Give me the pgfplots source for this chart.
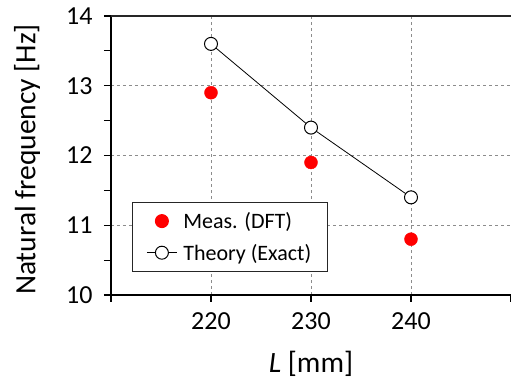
\documentclass[border=0pt]{standalone}
\usepackage{pgfplots}
\pgfplotsset{compat=1.18}
\usepackage{fontspec}
\setmainfont{Carlito}
\begin{document}
\begin{tikzpicture}
\begin{axis}[
  scale only axis, width=400pt, height=279pt,
  xmin=210, xmax=250, ymin=10, ymax=14,
  axis x line*=bottom, axis y line*=left,
  xtick={210,220,230,240,250}, xticklabels={,220,230,240,},
  ytick={10,11,12,13,14}, minor ytick={10.5,11.5,12.5,13.5},
  tick align=outside, major tick length=7pt, minor tick length=7pt,
  tick style={black, line width=1.2pt},
  axis line style={black, line width=1.5pt},
  grid=major, grid style={dashed, black!45, line width=0.7pt},
  /pgf/number format/assume math mode=true,
  ticklabel style={font=\fontsize{26}{30}\selectfont},
  xticklabel style={yshift=-7pt},
  yticklabel style={xshift=-8pt},
  label style={font=\fontsize{29.5}{34}\selectfont},
  xlabel={\textit{L} [mm]},
  xlabel style={at={(rel axis cs:0.5,0)}, anchor=center, yshift=-69pt},
  ylabel={Natural frequency [Hz]},
  ylabel style={at={(rel axis cs:0,0.5)}, anchor=center, yshift=84pt, xshift=-4pt},
  clip=false,
  legend style={at={(0.0525,0.0824)}, anchor=south west,
    font=\fontsize{22}{26}\selectfont, draw=black!85, line width=1pt,
    inner xsep=14pt, inner ysep=8pt, row sep=10pt,
    cells={anchor=west},
    /tikz/every odd column/.append style={column sep=4pt}},
  legend image code/.code={\draw[mark repeat=2,mark phase=2,#1] plot coordinates {(0pt,0pt) (15pt,0pt) (30pt,0pt)};},
]
\coordinate (bl) at (rel axis cs:0,0);
\coordinate (tr) at (rel axis cs:1,1);
\draw[black!85, line width=1.3pt] (rel axis cs:0,1) -- (rel axis cs:1,1);
\addplot[only marks, mark=*, mark size=6.5pt, mark options={draw=red, fill=red}, red]
  coordinates {(220,12.9) (230,11.9) (240,10.8)};
\addlegendentry{Meas. (DFT)}
\addplot[black, line width=0.8pt, mark=*, mark size=6.5pt, mark options={fill=white, draw=black, line width=1pt}]
  coordinates {(220,13.6) (230,12.4) (240,11.4)};
\addlegendentry{Theory (Exact)}
\end{axis}
\pgfresetboundingbox
\path ([xshift=-111pt,yshift=-86pt]bl) rectangle ([yshift=16pt]tr);
\end{tikzpicture}
\end{document}
